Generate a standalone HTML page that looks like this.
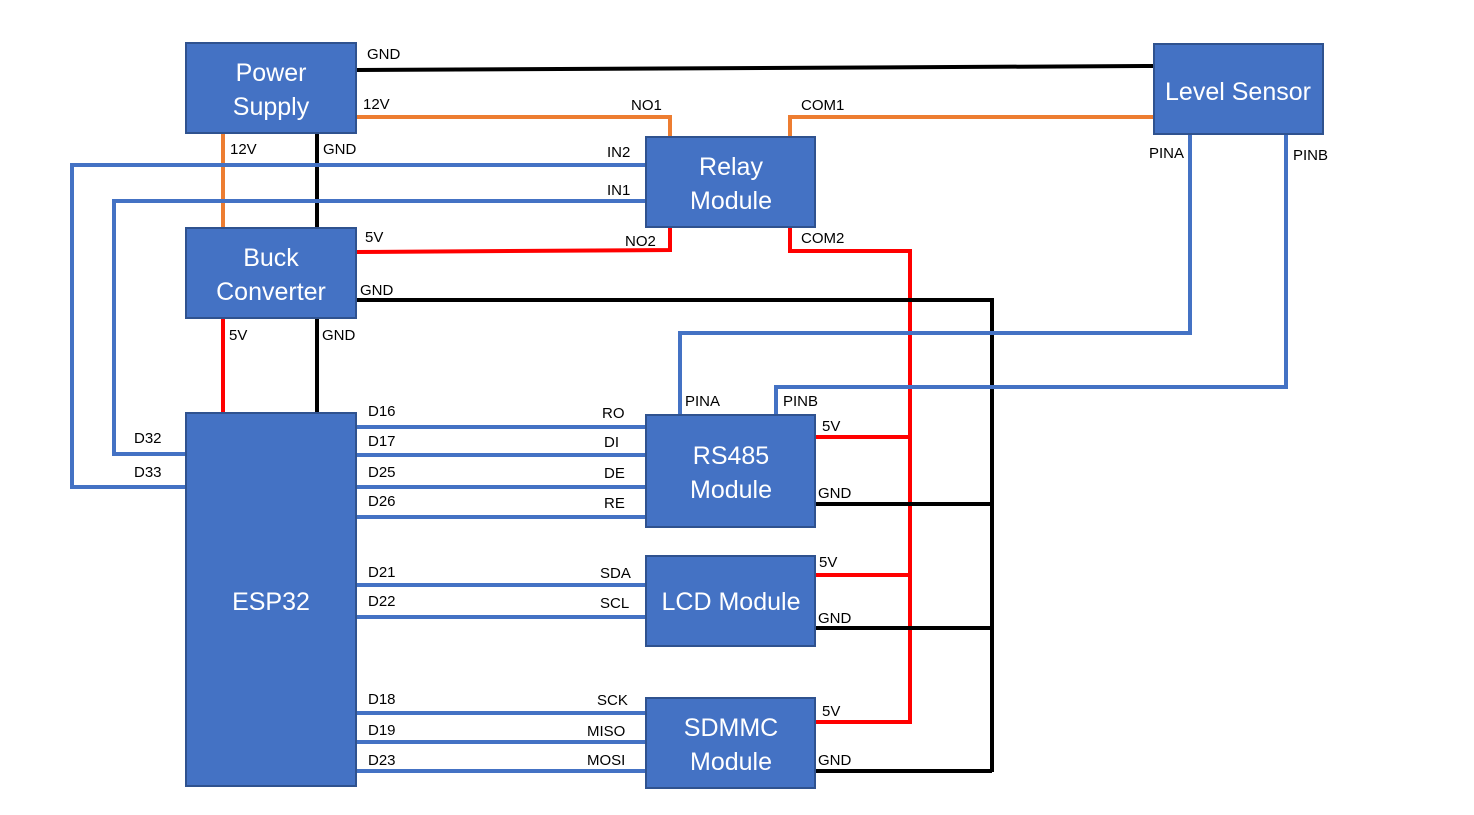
<!DOCTYPE html>
<html><head><meta charset="utf-8"><style>body{margin:0;background:#fff}svg{display:block}</style></head><body>
<svg width="1474" height="815" xmlns="http://www.w3.org/2000/svg" font-family="Liberation Sans, sans-serif">
<g fill="none" stroke-width="4">
<path d="M356 70 L1154 66" stroke="#000"/>
<path d="M356 117 H670 V137 M790 137 V117 H1154" stroke="#ed7d31"/>
<path d="M223 133 V228" stroke="#ed7d31"/>
<path d="M317 133 V228 M317 318 V413" stroke="#000"/>
<path d="M646 165 H72 V487 H186 M646 201 H114 V454 H186" stroke="#4472c4"/>
<path d="M356 252 L670 250 V227 M790 227 V251 H910 V722 H815 M815 437 H910 M815 575 H910 M223 318 V413" stroke="#f00"/>
<path d="M356 300 H992 V772 M815 504 H992 M815 628 H992 M815 771 H992" stroke="#000"/>
<path d="M1190 134 V333 H680 V415 M1286 134 V387 H776 V415" stroke="#4472c4"/>
<path d="M356 427 H646 M356 455 H646 M356 487 H646 M356 517 H646 M356 585 H646 M356 617 H646 M356 713 H646 M356 742 H646 M356 771 H646" stroke="#4472c4"/>
</g>
<g fill="#4472c4" stroke="#2f528f" stroke-width="2">
<rect x="186" y="43" width="170" height="90"/>
<rect x="1154" y="44" width="169" height="90"/>
<rect x="646" y="137" width="169" height="90"/>
<rect x="186" y="228" width="170" height="90"/>
<rect x="186" y="413" width="170" height="373"/>
<rect x="646" y="415" width="169" height="112"/>
<rect x="646" y="556" width="169" height="90"/>
<rect x="646" y="698" width="169" height="90"/>
</g>
<g fill="#fff" font-size="25" text-anchor="middle">
<text x="271" y="81">Power</text><text x="271" y="115">Supply</text>
<text x="1238" y="100">Level Sensor</text>
<text x="731" y="175">Relay</text><text x="731" y="209">Module</text>
<text x="271" y="266">Buck</text><text x="271" y="300">Converter</text>
<text x="271" y="610">ESP32</text>
<text x="731" y="464">RS485</text><text x="731" y="498">Module</text>
<text x="731" y="610">LCD Module</text>
<text x="731" y="736">SDMMC</text><text x="731" y="770">Module</text>
</g>
<g fill="#000" font-size="15">
<text x="367" y="59">GND</text><text x="363" y="109">12V</text>
<text x="631" y="110">NO1</text><text x="801" y="110">COM1</text>
<text x="230" y="154">12V</text><text x="323" y="154">GND</text>
<text x="607" y="157">IN2</text><text x="607" y="195">IN1</text>
<text x="1149" y="158">PINA</text><text x="1293" y="160">PINB</text>
<text x="365" y="242">5V</text><text x="625" y="246">NO2</text><text x="801" y="243">COM2</text>
<text x="360" y="295">GND</text>
<text x="229" y="340">5V</text><text x="322" y="340">GND</text>
<text x="685" y="406">PINA</text><text x="783" y="406">PINB</text>
<text x="368" y="416">D16</text><text x="602" y="418">RO</text>
<text x="134" y="443">D32</text><text x="368" y="446">D17</text><text x="604" y="447">DI</text>
<text x="134" y="477">D33</text><text x="368" y="477">D25</text><text x="604" y="478">DE</text>
<text x="368" y="506">D26</text><text x="604" y="508">RE</text>
<text x="822" y="431">5V</text><text x="818" y="498">GND</text>
<text x="368" y="577">D21</text><text x="600" y="578">SDA</text>
<text x="368" y="606">D22</text><text x="600" y="608">SCL</text>
<text x="819" y="567">5V</text><text x="818" y="623">GND</text>
<text x="368" y="704">D18</text><text x="597" y="705">SCK</text>
<text x="368" y="735">D19</text><text x="587" y="736">MISO</text>
<text x="368" y="765">D23</text><text x="587" y="765">MOSI</text>
<text x="822" y="716">5V</text><text x="818" y="765">GND</text>
</g>
</svg>
</body></html>
